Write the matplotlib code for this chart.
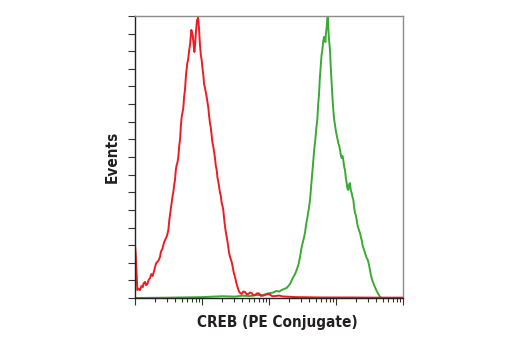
import numpy as np
from matplotlib import pyplot as plt
from matplotlib import ticker

# fluorescence position in decades (log10) and event counts per channel
red_decade = [0.0, 0.01, 0.035, 0.055, 0.075, 0.095, 0.115, 0.13, 0.149, 0.165, 0.184,
              0.204, 0.224, 0.244, 0.264, 0.282, 0.299, 0.316, 0.333, 0.353, 0.373,
              0.386, 0.398, 0.41, 0.423, 0.443, 0.463, 0.48, 0.498, 0.51, 0.522,
              0.535, 0.547, 0.56, 0.572, 0.585, 0.597, 0.61, 0.622, 0.635, 0.647,
              0.66, 0.672, 0.685, 0.697, 0.709, 0.721, 0.734, 0.746, 0.761, 0.771,
              0.781, 0.791, 0.801, 0.811, 0.821, 0.831, 0.841, 0.851, 0.861, 0.873,
              0.886, 0.896, 0.906, 0.915, 0.925, 0.933, 0.940, 0.948, 0.955, 0.962,
              0.970, 0.982, 0.995, 1.007, 1.020, 1.032, 1.045, 1.057, 1.070, 1.083,
              1.095, 1.107, 1.119, 1.131, 1.144, 1.156, 1.169, 1.181, 1.194, 1.206,
              1.219, 1.231, 1.244, 1.256, 1.269, 1.281, 1.294, 1.306, 1.318, 1.328,
              1.338, 1.348, 1.358, 1.373, 1.388, 1.403, 1.418, 1.436, 1.453, 1.473,
              1.493, 1.508, 1.522, 1.54, 1.557, 1.575, 1.592, 1.617, 1.642, 1.667,
              1.692, 1.717, 1.742, 1.766, 1.791, 1.82, 1.85, 1.88, 1.92, 1.96, 2.0,
              2.05, 2.1, 2.15, 2.2, 2.3, 2.4, 2.6, 2.8, 3.2, 3.6, 4.0]
red_counts = [30.0, 25.5, 4.5, 5.3, 4.5, 6.8, 6.2, 8.4, 9.1, 7.3, 7.9,
              10.2, 11.3, 13.6, 12.5, 15.1, 17.6, 19.8, 20.4, 21.5, 23.3,
              26.1, 27.2, 28.0, 30.1, 32.4, 34.0, 35.7, 38.6, 43.5, 47.1,
              50.8, 53.9, 57.7, 60.1, 64.2, 67.0, 72.9, 75.5, 77.1, 80.0,
              86.3, 89.6, 97.8, 102.7, 105.2, 107.8, 114.6, 118.0, 126.5, 129.9,
              133.3, 134.8, 137.9, 141.2, 143.5, 148.0, 152.1, 150.4, 149.2, 144.8,
              139.6, 143.2, 149.2, 153.6, 157.7, 156.1, 159.4, 156.3, 153.2, 148.8,
              143.5, 138.1, 135.0, 130.4, 126.5, 121.2, 119.1, 116.8, 114.0, 110.7,
              107.8, 103.1, 99.3, 96.6, 92.5, 88.2, 85.7, 82.9, 79.4, 75.1,
              72.6, 68.3, 65.8, 62.7, 59.6, 57.9, 53.9, 52.2, 49.9, 45.8,
              42.6, 39.3, 36.9, 33.8, 30.1, 25.9, 23.3, 21.4, 18.7, 14.6,
              11.9, 9.2, 7.4, 4.9, 3.4, 2.6, 2.3, 3.7, 3.4, 2.1,
              2.3, 3.1, 2.8, 1.5, 1.7, 2.6, 2.6, 1.2, 1.4, 2.0, 2.2,
              1.0, 1.1, 1.4, 0.9, 0.7, 0.5, 0.4, 0.3, 0.3, 0.2, 0.2]

green_decade = [0.0, 0.5, 1.0, 1.3, 1.5, 1.6, 1.716, 1.8, 1.915, 1.97, 2.015,
                2.06, 2.114, 2.15, 2.189, 2.23, 2.264, 2.29, 2.313, 2.338, 2.363,
                2.388, 2.413, 2.438, 2.463, 2.482, 2.502, 2.52, 2.537, 2.555, 2.572,
                2.592, 2.612, 2.637, 2.662, 2.677, 2.691, 2.706, 2.721, 2.733, 2.746,
                2.758, 2.771, 2.784, 2.796, 2.808, 2.821, 2.831, 2.841, 2.851, 2.861,
                2.869, 2.876, 2.884, 2.891, 2.900, 2.910, 2.922, 2.935, 2.948, 2.960,
                2.972, 2.985, 2.998, 3.010, 3.022, 3.034, 3.047, 3.060, 3.072, 3.085,
                3.097, 3.109, 3.122, 3.134, 3.147, 3.159, 3.171, 3.184, 3.196, 3.209,
                3.221, 3.234, 3.246, 3.259, 3.271, 3.284, 3.296, 3.309, 3.321, 3.333,
                3.346, 3.358, 3.371, 3.383, 3.396, 3.408, 3.42, 3.433, 3.446, 3.458,
                3.471, 3.483, 3.495, 3.507, 3.52, 3.532, 3.545, 3.557, 3.57, 3.582,
                3.595, 3.607, 3.62, 3.632, 3.645, 3.657, 3.682, 4.0]
green_counts = [0.0, 0.2, 0.5, 1.0, 0.8, 1.3, 1.1, 1.6, 1.7, 2.5, 2.8,
                3.1, 4.0, 3.6, 4.5, 5.2, 5.7, 6.9, 7.9, 10.0, 11.9,
                13.5, 15.9, 18.7, 23.3, 27.8, 31.2, 33.9, 36.9, 42.0, 45.4,
                50.2, 55.6, 67.0, 78.3, 85.1, 89.6, 96.4, 101.0, 109.5, 115.2,
                124.3, 131.1, 137.7, 140.7, 145.3, 148.1, 147.0, 145.2, 150.5, 153.8,
                157.6, 159.4, 154.1, 149.2, 145.0, 140.7, 130.9, 122.0, 113.2, 106.7,
                101.3, 98.2, 94.8, 92.5, 90.3, 87.9, 86.5, 83.9, 81.0, 79.4,
                80.6, 78.3, 74.4, 72.6, 68.1, 65.2, 62.0, 61.3, 64.5, 65.2,
                61.1, 59.6, 57.3, 55.6, 51.2, 48.2, 46.9, 44.3, 41.2, 39.7,
                38.2, 36.9, 34.6, 32.9, 30.1, 28.4, 27.2, 25.5, 24.1, 22.7,
                21.9, 20.4, 18.3, 15.9, 13.2, 11.3, 9.6, 8.5, 7.1, 6.2,
                5.0, 4.0, 3.1, 2.3, 1.4, 0.6, 0.0, 0.0]

fig = plt.figure(figsize=(5.2, 3.5), dpi=100)
ax = fig.add_axes([135 / 520, 1 - 298 / 350, 268 / 520, 282 / 350])

ax.plot(10 ** np.array(green_decade), green_counts, color="#3aaa35", lw=1.4)
ax.plot(10 ** np.array(red_decade), red_counts, color="#ec1c24", lw=1.4)

ax.set_xscale("log")
ax.set_xlim(1, 1e4)
ax.set_ylim(0, 160)
ax.xaxis.set_major_locator(ticker.LogLocator(base=10, numticks=10))
ax.xaxis.set_minor_locator(ticker.LogLocator(base=10, subs=np.arange(2, 10), numticks=100))
ax.xaxis.set_major_formatter(ticker.NullFormatter())
ax.xaxis.set_minor_formatter(ticker.NullFormatter())
ax.yaxis.set_major_locator(ticker.MultipleLocator(10))
ax.yaxis.set_major_formatter(ticker.NullFormatter())

ax.tick_params(axis="x", which="major", direction="out", length=5, width=0.8, color="#333333")
ax.tick_params(axis="x", which="minor", direction="out", length=3, width=0.8, color="#333333")
ax.tick_params(axis="y", which="major", direction="out", length=5, width=0.8, color="#333333")

for side in ["left", "bottom"]:
    ax.spines[side].set_color("#222222")
    ax.spines[side].set_linewidth(1.0)
for side in ["top", "right"]:
    ax.spines[side].set_color("#8c8c8c")
    ax.spines[side].set_linewidth(1.0)

label_font = dict(family="DejaVu Sans", fontstretch="condensed", fontweight="bold",
                  fontsize=11, color="#231f20")
fig.text(277 / 520, 1 - 322 / 350, "CREB (PE Conjugate)", ha="center", va="center", **label_font)
fig.text(112 / 520, 1 - 157 / 350, "Events", ha="center", va="center", rotation=90, **label_font)

fig.savefig("out.png", dpi=100)
